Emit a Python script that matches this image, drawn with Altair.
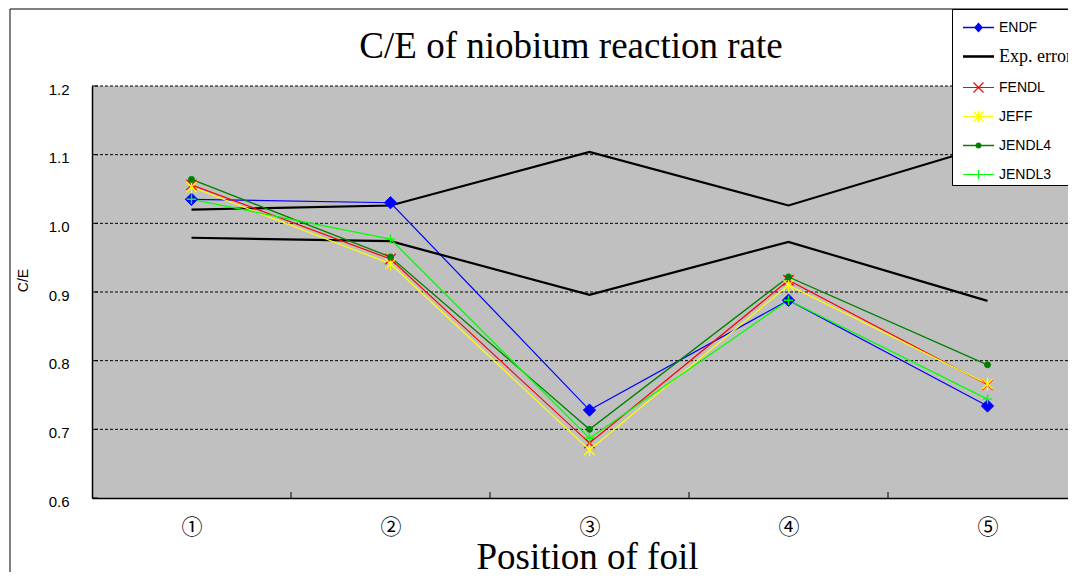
import json
import math
import altair as alt
import pandas as pd

# ---------------- data ----------------
positions = [1, 2, 3, 4, 5]
x_labels = ["①", "②", "③", "④", "⑤"]
series_names = ["ENDF", "Exp. error", "FENDL", "JEFF", "JENDL4", "JENDL3"]

endf = [1.035, 1.030, 0.728, 0.888, 0.734]
exp_upper = [1.020, 1.026, 1.104, 1.026, 1.113]
exp_lower = [0.979, 0.974, 0.896, 0.973, 0.887]
fendl = [1.056, 0.948, 0.680, 0.917, 0.765]
jeff = [1.053, 0.941, 0.670, 0.910, 0.766]
jendl4 = [1.064, 0.951, 0.700, 0.922, 0.794]
jendl3 = [1.035, 0.977, 0.687, 0.888, 0.744]

y_ticks = [0.6, 0.7, 0.8, 0.9, 1.0, 1.1, 1.2]
x_tick_marks = [1.5, 2.5, 3.5, 4.5]

series_colors = ["#0000FF", "#000000", "#FF0000", "#FFFF00", "#008000", "#00FF00"]

# ---------------- tables ----------------
model_vals = {"ENDF": endf, "FENDL": fendl, "JEFF": jeff, "JENDL4": jendl4, "JENDL3": jendl3}
rows = []
for name, vals in model_vals.items():
    for p, v in zip(positions, vals):
        rows.append({"series": name, "pos": p, "value": v})
df = pd.DataFrame(rows)

exp_rows = []
for bound, vals in (("upper", exp_upper), ("lower", exp_lower)):
    for p, v in zip(positions, vals):
        exp_rows.append({"bound": bound, "pos": p, "value": v})
exp_df = pd.DataFrame(exp_rows)

# ---------------- layout ----------------
W, H = 976, 412
BAND = 199.0
x_min = 0.5
x_max = x_min + W / BAND
y_min, y_max = 0.6, 1.2
px_per_y = H / (y_max - y_min)

label_expr = json.dumps(x_labels, ensure_ascii=False) + "[datum.value - 1]"

x_axis = alt.Axis(
    values=positions, labelExpr=label_expr, title="Position of foil",
    grid=False, ticks=False, tickSize=0, domainColor="#000000", domainWidth=1.5,
    labelFont="Noto Sans CJK JP", labelFontSize=21, labelColor="#000000",
    labelPadding=29, labelBaseline="middle", labelAngle=0,
    titleFont="Liberation Serif", titleFontSize=37, titleFontWeight="normal",
    titleColor="#000000", titleX=495, titleY=70, titleAlign="center",
    titleBaseline="alphabetic", zindex=1,
)
y_axis = alt.Axis(
    values=y_ticks, format=".1f", title="C/E",
    grid=False, ticks=False, tickSize=0, domainColor="#000000", domainWidth=1.5,
    labelFont="Liberation Sans", labelFontSize=15, labelColor="#000000",
    labelPadding=23, labelOffset=3,
    titleFont="Liberation Sans", titleFontSize=14, titleFontWeight="normal",
    titleColor="#000000", titleX=-69, titleY=194, titleAngle=270,
    titleAlign="center", titleBaseline="middle", zindex=1,
)
xscale = alt.Scale(domain=[x_min, x_max], nice=False, zero=False)
yscale = alt.Scale(domain=[y_min, y_max], nice=False, zero=False)

X = alt.X("pos:Q", scale=xscale, axis=x_axis)
Y = alt.Y("value:Q", scale=yscale, axis=y_axis)

# ---------------- legend symbol glyphs (filled polygons) ----------------
U = 15.5  # half-width of legend symbol in px


def poly(points):
    area = 0.0
    n = len(points)
    for i in range(n):
        x1, y1 = points[i]
        x2, y2 = points[(i + 1) % n]
        area += x1 * y2 - x2 * y1
    if area < 0:
        points = points[::-1]
    return "M" + "L".join(f"{x / U:.4f},{y / U:.4f}" for x, y in points) + "Z"


def hbar(half, t):
    return poly([(-half, -t), (half, -t), (half, t), (-half, t)])


def vbar(half, t):
    return poly([(-t, -half), (t, -half), (t, half), (-t, half)])


def diag(a, t, sign):
    d = t / math.sqrt(2)
    if sign > 0:
        pts = [(-a + d, -a - d), (a + d, a - d), (a - d, a + d), (-a - d, -a + d)]
    else:
        pts = [(-a + d, a + d), (a + d, -a + d), (a - d, -a - d), (-a - d, a - d)]
    return poly(pts)


def diamond(w, h):
    return poly([(-w, 0), (0, -h), (w, 0), (0, h)])


def circle(r, n=20):
    return poly([(r * math.cos(2 * math.pi * k / n), r * math.sin(2 * math.pi * k / n)) for k in range(n)])


legend_shapes = [
    hbar(U, 0.7) + diamond(4.5, 5.0),
    hbar(U, 1.3),
    hbar(U, 0.6) + diag(5, 0.6, 1) + diag(5, 0.6, -1),
    hbar(U, 0.6) + diag(5, 0.6, 1) + diag(5, 0.6, -1) + vbar(6, 0.6),
    hbar(U, 0.8) + circle(3.0),
    hbar(U, 0.6) + vbar(4.5, 0.6),
]

legend = alt.Legend(
    orient="none", legendX=860, legendY=-77, title=None,
    padding=3, symbolOffset=8, symbolSize=961, symbolStrokeWidth=0, symbolOpacity=1,
    labelFont=alt.ExprRef("datum.label === 'Exp. error' ? 'Liberation Serif' : 'Liberation Sans'"),
    labelFontSize=alt.ExprRef("datum.label === 'Exp. error' ? 18 : 14"),
    labelColor="#000000", labelOffset=5, rowPadding=6,
    strokeColor="#000000", fillColor="#FFFFFF", cornerRadius=0,
    labelLimit=300,
)

# ---------------- layers ----------------
one_row = pd.DataFrame({"a": [0]})
plot_bg = alt.Chart(one_row).mark_rect(fill="#C0C0C0", stroke=None).encode(
    x=alt.value(0), x2=alt.value(W), y=alt.value(0), y2=alt.value(H)
)

grid_df = pd.DataFrame({"value": y_ticks[1:]})
grid_layer = alt.Chart(grid_df).mark_rule(color="#000000", strokeWidth=1, strokeDash=[3, 2]).encode(
    y=Y
)

frame = alt.Chart(one_row).mark_rect(
    fill="transparent", stroke="#000000", strokeWidth=1
).encode(
    x=alt.value(-82), x2=alt.value(W + 200), y=alt.value(-77), y2=alt.value(H + 200)
)

xt_df = pd.DataFrame({"pos": x_tick_marks, "value": [y_min] * len(x_tick_marks),
                      "value2": [y_min + 6 / px_per_y] * len(x_tick_marks)})
x_ticks_layer = alt.Chart(xt_df).mark_rule(color="#000000", strokeWidth=1).encode(
    x=X, y=Y, y2="value2:Q"
)

yt_df = pd.DataFrame({"pos": [x_min] * len(y_ticks), "pos2": [x_min + 6 / BAND] * len(y_ticks),
                      "value": y_ticks})
y_ticks_layer = alt.Chart(yt_df).mark_rule(color="#000000", strokeWidth=1).encode(
    x=X, x2="pos2:Q", y=Y
)

layers = [plot_bg, grid_layer, frame, x_ticks_layer, y_ticks_layer]

line_styles = {
    "ENDF": ("#0000FF", 1.2),
    "FENDL": ("#FF0000", 1.2),
    "JEFF": ("#FFFF00", 1.2),
    "JENDL4": ("#008000", 1.3),
    "JENDL3": ("#00FF00", 1.3),
}

layers.append(alt.Chart(df[df.series == "ENDF"]).mark_line(
    color=line_styles["ENDF"][0], strokeWidth=line_styles["ENDF"][1]).encode(x=X, y=Y))
layers.append(alt.Chart(exp_df).mark_line(color="#000000", strokeWidth=2.2).encode(
    x=X, y=Y, detail="bound:N"))
for name in ["FENDL", "JEFF", "JENDL4", "JENDL3"]:
    c, w = line_styles[name]
    layers.append(alt.Chart(df[df.series == name]).mark_line(color=c, strokeWidth=w).encode(x=X, y=Y))

marker_styles = {
    "ENDF": dict(shape="diamond", size=150, filled=True, color="#0000FF", strokeWidth=1),
    "FENDL": dict(shape="M-1,-1L1,1M-1,1L1,-1", size=110, filled=False, color="#FF0000", strokeWidth=1.3),
    "JEFF": dict(shape="M-1,-1L1,1M-1,1L1,-1M0,-1.25L0,1.25", size=110, filled=False, color="#FFFF00", strokeWidth=1.3),
    "JENDL4": dict(shape="circle", size=36, filled=True, color="#008000", strokeWidth=1),
    "JENDL3": dict(shape="M-1,0L1,0M0,-1L0,1", size=90, filled=False, color="#00FF00", strokeWidth=1.4),
}
for name in ["ENDF", "FENDL", "JEFF", "JENDL4", "JENDL3"]:
    st = marker_styles[name]
    layers.append(alt.Chart(df[df.series == name]).mark_point(
        shape=st["shape"], size=st["size"], filled=st["filled"], color=st["color"],
        stroke=st["color"], strokeWidth=st["strokeWidth"], opacity=1
    ).encode(x=X, y=Y))

carrier = alt.Chart(pd.DataFrame({"series": series_names})).mark_point(
    filled=True, opacity=0
).encode(
    color=alt.Color("series:N", scale=alt.Scale(domain=series_names, range=series_colors), legend=legend),
    shape=alt.Shape("series:N", scale=alt.Scale(domain=series_names, range=legend_shapes), legend=legend),
)
layers.append(carrier)

chart = alt.layer(*layers).properties(
    width=W, height=H,
    autosize=alt.AutoSizeParams(type="none"),
    padding={"left": 84, "top": 78, "right": 0, "bottom": 74},
    background="#FFFFFF",
    title=alt.TitleParams(
        text="C/E of niobium reaction rate", font="Liberation Serif", fontSize=37,
        fontWeight="normal", color="#000000", anchor="middle", frame="group",
        dx=-9, offset=-86, baseline="alphabetic",
    ),
).configure_view(fill="#C0C0C0", strokeWidth=0)

chart.save("out.html", embed_options={"renderer": "svg", "actions": False})
